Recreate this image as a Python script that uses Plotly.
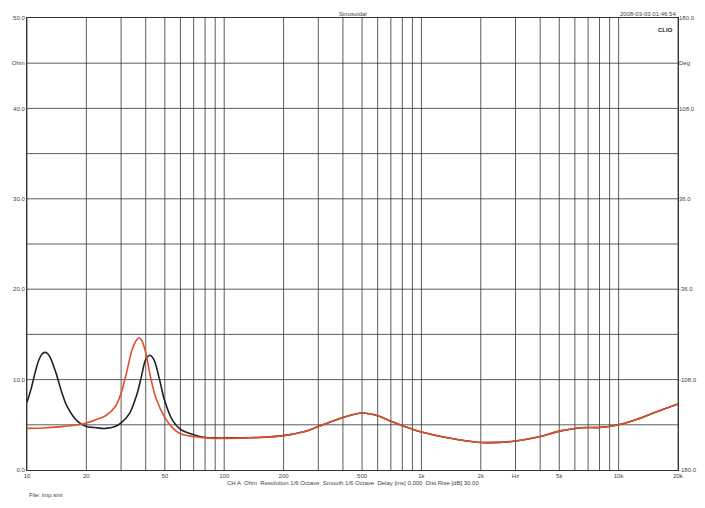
import plotly.graph_objects as go
import numpy as np

freq_black = [10, 10.5, 11, 11.5, 12, 12.5, 13, 14, 15, 16, 18, 20, 22, 25, 28, 30, 33, 36, 38, 40, 42, 44, 47, 50, 55, 60, 70, 80, 90, 100, 150, 200, 250, 300, 400, 500, 600, 700, 800, 1000, 1500, 2000, 3000, 4000, 5000, 6000, 7000, 8000, 10000, 12000, 15000, 20000]
imp_black = [7.5, 9.0, 10.8, 12.2, 12.9, 13.0, 12.6, 10.8, 8.6, 7.0, 5.4, 4.8, 4.7, 4.6, 4.8, 5.2, 6.2, 8.3, 10.3, 12.2, 12.7, 12.2, 10.0, 7.6, 5.4, 4.5, 3.9, 3.6, 3.55, 3.55, 3.6, 3.8, 4.2, 4.8, 5.8, 6.3, 6.0, 5.4, 4.9, 4.2, 3.4, 3.05, 3.2, 3.7, 4.3, 4.6, 4.7, 4.7, 5.0, 5.5, 6.3, 7.3]
freq_red = [10, 12, 15, 18, 20, 22, 25, 28, 30, 32, 34, 36, 37, 38, 40, 42, 45, 50, 55, 60, 70, 80, 90, 100, 150, 200, 250, 300, 400, 500, 600, 700, 800, 1000, 1500, 2000, 3000, 4000, 5000, 6000, 7000, 8000, 10000, 12000, 15000, 20000]
imp_red = [4.6, 4.65, 4.8, 5.0, 5.2, 5.5, 6.0, 7.0, 8.5, 10.8, 13.2, 14.4, 14.6, 14.4, 13.0, 10.6, 8.0, 5.8, 4.6, 4.0, 3.7, 3.55, 3.5, 3.5, 3.6, 3.8, 4.2, 4.8, 5.8, 6.3, 6.0, 5.4, 4.9, 4.2, 3.4, 3.05, 3.2, 3.7, 4.3, 4.6, 4.7, 4.7, 5.0, 5.5, 6.3, 7.3]

xtick_vals = [10, 20, 50, 100, 200, 500, 1000, 2000, 3000, 5000, 10000, 20000]
xtick_text = ["10", "20", "50", "100", "200", "500", "1k", "2k", "Hz", "5k", "10k", "20k"]
ytick_vals = [0, 10, 20, 30, 40, 45, 50]
ytick_text = ["0.0", "10.0", "20.0", "30.0", "40.0", "Ohm", "50.0"]
y2_text = ["-180.0", "-108.0", "-36.0", "36.0", "108.0", "Deg", "180.0"]

grid_x = [a * b for b in (10, 100, 1000) for a in range(1, 10)] + [10000, 20000]

fig = go.Figure()
fig.add_trace(go.Scatter(x=freq_black, y=imp_black, mode="lines", line=dict(color="#222222", width=1.6, shape="spline")))
fig.add_trace(go.Scatter(x=freq_red, y=imp_red, mode="lines", line=dict(color="#e0502a", width=1.6, shape="spline")))
fig.add_trace(go.Scatter(x=[10], y=[0], yaxis="y2", mode="markers", marker=dict(opacity=0), hoverinfo="skip"))

fig.update_layout(
    width=705, height=508, showlegend=False, plot_bgcolor="white", paper_bgcolor="white",
    margin=dict(l=19, r=35, t=10, b=46, autoexpand=False),
    font=dict(family="Liberation Sans", size=6, color="#444"),
    xaxis=dict(type="log", range=[1, np.log10(20000)], tickvals=xtick_vals, ticktext=xtick_text,
               showgrid=False, showline=True, linecolor="#333", mirror=True, ticks="", zeroline=False,
               automargin=False, tickfont=dict(color="#444")),
    yaxis=dict(range=[0, 50], tickvals=ytick_vals, ticktext=ytick_text, showgrid=False, automargin=False,
               showline=True, linecolor="#333", mirror=True, ticks="", zeroline=False, tickfont=dict(color="#444")),
    yaxis2=dict(overlaying="y", side="right", range=[-180, 180], tickvals=[-180, -108, -36, 36, 108, 144, 180],
                ticktext=y2_text, showgrid=False, ticks="", zeroline=False, automargin=False, tickfont=dict(color="#444")),
)
for g in grid_x:
    fig.add_shape(type="line", xref="x", yref="paper", x0=g, x1=g, y0=0, y1=1, line=dict(color="#333", width=0.8), layer="below")
for v in range(5, 50, 5):
    fig.add_shape(type="line", xref="paper", yref="y", x0=0, x1=1, y0=v, y1=v, line=dict(color="#333", width=0.8), layer="below")

fig.add_annotation(text="Sinusoidal", xref="paper", yref="paper", x=0.5, y=1.0, yshift=9, showarrow=False, font=dict(size=6))
fig.add_annotation(text="2008-03-03 01:46:54", xref="paper", yref="paper", x=1.0, y=1.0, yshift=9, xanchor="right", showarrow=False, font=dict(size=6))
fig.add_annotation(text="<b>CLIO</b>", xref="paper", yref="paper", x=0.995, y=0.985, xanchor="right", showarrow=False, font=dict(size=6, color="#222"))
fig.add_annotation(text="CH A  Ohm  Resolution 1/6 Octave  Smooth 1/6 Octave  Delay [ms] 0.000  Dist Rise [dB] 30.00",
                   xref="paper", yref="paper", x=0.5, y=0, yshift=-18, showarrow=False, font=dict(size=6))
fig.add_annotation(text="File: imp.sini", xref="paper", yref="paper", x=0, y=0, yshift=-30, xanchor="left", showarrow=False, font=dict(size=6))

fig.write_html("out.html")
